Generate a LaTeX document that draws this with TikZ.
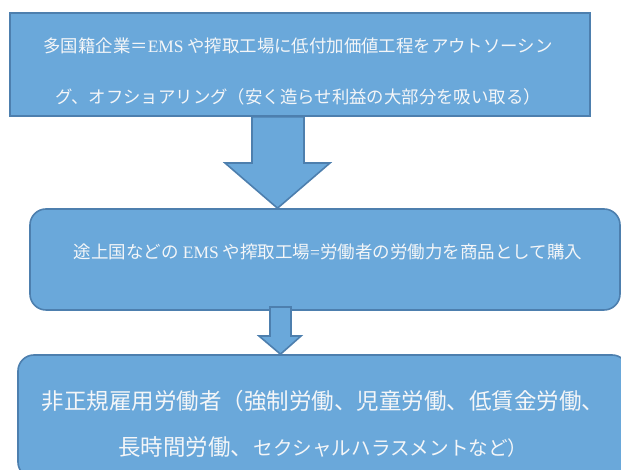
\documentclass[tikz,border=0pt]{standalone}
\usepackage{fontspec}
\setmainfont{Liberation Serif}
\newfontfamily\jp{Noto Sans CJK JP}
\newfontfamily\lat{Liberation Serif}
\definecolor{boxfill}{HTML}{6AA8DA}
\definecolor{boxline}{HTML}{4D7FAE}
\definecolor{txtcol}{HTML}{F4F6F8}
\tikzset{
  flowbox/.style={draw=boxline, fill=boxfill, line width=1.6pt, inner sep=0pt},
  roundbox/.style={flowbox, rounded corners=16pt},
  blockarrow/.style={draw=boxline, fill=boxfill, line width=1.6pt, line join=miter},
  boxtext/.style={text=txtcol, align=center, inner sep=0pt},
}
\begin{document}
\begin{tikzpicture}[x=1pt,y=1pt]
\useasboundingbox (0,0) rectangle (621,470);
\clip (0,0) rectangle (621,470);
% box 1
\node[flowbox, minimum width=580pt, minimum height=103pt] (b1) at (300,405.5) {};
\node[boxtext, font={\jp\fontsize{17.4}{51}\selectfont}] (t1) at (298,398.5)
  {多国籍企業＝{\lat EMS} や搾取工場に低付加価値工程をアウトソーシン\\グ、オフショアリング（安く造らせ利益の大部分を吸い取る）};
% box 2
\node[roundbox, minimum width=590pt, minimum height=101pt] (b2) at (325,210.5) {};
\node[boxtext, font={\jp\fontsize{17.5}{21}\selectfont}] (t2) at (328,218.5)
  {途上国などの {\lat EMS} や搾取工場{\lat =}労働者の労働力を商品として購入};
% box 3
\node[roundbox, minimum width=610pt, minimum height=123pt] (b3) at (323,53.5) {};
\node[boxtext, font={\jp\fontsize{22.5}{46}\selectfont}] (t3) at (323,46)
  {非正規雇用労働者（強制労働、児童労働、低賃金労働、\\長時間労働、{\fontsize{19.6}{46}\selectfont セクシャルハラスメントなど）}};
% arrows
\coordinate (a1s) at (b1.south -| 278,0);
\coordinate (a1t) at (b2.north -| 277.5,0);
\draw[blockarrow] ([xshift=-26pt]a1s) -- ([xshift=26pt]a1s) -- ([xshift=26pt]a1s |- 0,307) -- (330,307) -- (a1t) -- (225,307) -- ([xshift=-26pt]a1s |- 0,307) -- cycle;
\coordinate (a2s) at (280.5,163);
\coordinate (a2t) at (b3.north -| 280.5,0);
\draw[blockarrow] ([xshift=-10.5pt]a2s) -- ([xshift=10.5pt]a2s) -- (291,134) -- (301,134) -- (a2t) -- (259,134) -- (270,134) -- cycle;
\end{tikzpicture}
\end{document}
